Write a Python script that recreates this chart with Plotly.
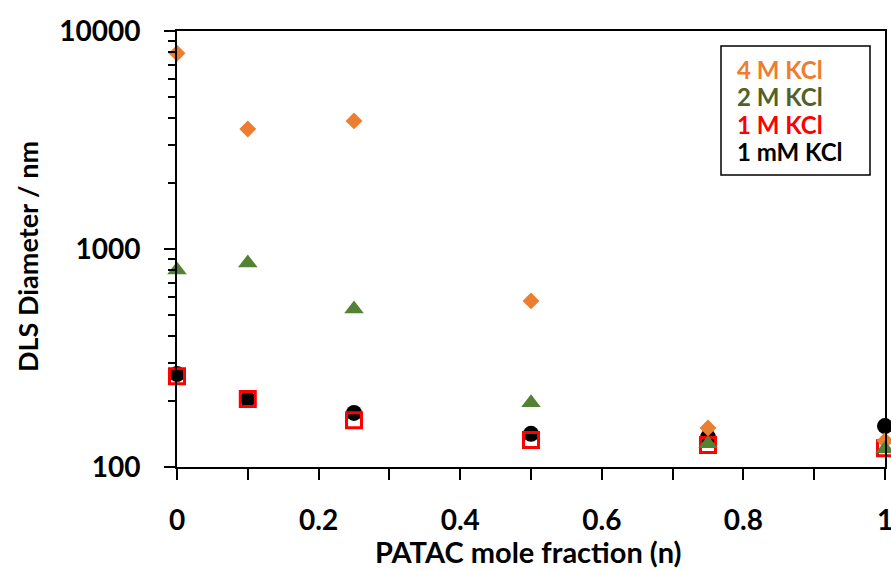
import plotly.graph_objects as go

x_vals = [0, 0.1, 0.25, 0.5, 0.75, 1.0]
kcl_4M = [7900, 3550, 3870, 578, 151, 132]
kcl_2M = [801, 862, 531, 197, 128, 121]
kcl_1M = [261, 205, 164, 133, 126, 122]
kcl_1mM = [267, 205, 177, 142, 137, 154]

x_tickvals = [0, 0.2, 0.4, 0.6, 0.8, 1.0]
x_ticktext = ["0", "0.2", "0.4", "0.6", "0.8", "1"]
y_tickvals = [100, 1000, 10000]
y_ticktext = ["100", "1000", "10000"]

legend_labels = ["4 M KCl", "2 M KCl", "1 M KCl", "1 mM KCl"]
legend_colors = ["#ED7D31", "#4F6228", "#FF0000", "#000000"]

FONT = "Lato"

fig = go.Figure()
fig.add_trace(go.Scatter(x=x_vals, y=kcl_1mM, mode="markers", cliponaxis=False,
                         marker=dict(symbol="circle", size=16, color="#000000"), name="1 mM KCl"))
fig.add_trace(go.Scatter(x=x_vals, y=kcl_1M, mode="markers", cliponaxis=False,
                         marker=dict(symbol="square-open", size=15, color="#FF0000",
                                     line=dict(width=3, color="#FF0000")), name="1 M KCl"))
fig.add_trace(go.Scatter(x=x_vals, y=kcl_4M, mode="markers", cliponaxis=False,
                         marker=dict(symbol="diamond", size=13, color="#ED7D31"), name="4 M KCl"))
fig.add_trace(go.Scatter(x=x_vals, y=kcl_2M, mode="markers", cliponaxis=False,
                         marker=dict(symbol="triangle-up", size=17, color="#548235"), name="2 M KCl"))

L, R, T, B = 177, 885, 31, 467
W, H = R - L, B - T
def px(xp):
    return (xp - L) / W
def py(yp):
    return (B - yp) / H

fig.add_shape(type="rect", xref="paper", yref="paper",
              x0=px(721), x1=px(870), y0=py(175), y1=py(46),
              line=dict(color="#000000", width=1.5), fillcolor="white", layer="above")
legend_y = [69.5, 97, 124.5, 152]
for t, c, yy in zip(legend_labels, legend_colors, legend_y):
    fig.add_annotation(xref="paper", yref="paper", x=px(735), y=py(yy),
                       xanchor="left", yanchor="middle", align="left", showarrow=False,
                       text=t, font=dict(family=FONT, size=24, weight="bold", color=c))

fig.add_annotation(xref="paper", yref="paper", x=px(528), y=py(551),
                   xanchor="center", yanchor="middle", showarrow=False,
                   text="PATAC mole fraction (n)",
                   font=dict(family=FONT, size=29, weight="bold", color="#000000"))
fig.add_annotation(xref="paper", yref="paper", x=px(27), y=py(257),
                   xanchor="center", yanchor="middle", showarrow=False, textangle=-90,
                   text="DLS Diameter / nm",
                   font=dict(family=FONT, size=27, weight="bold", color="#000000"))

fig.update_layout(
    width=891, height=570,
    margin=dict(l=L, r=891 - R, t=T, b=570 - B),
    plot_bgcolor="white", paper_bgcolor="white",
    showlegend=False,
    font=dict(family=FONT, size=28, weight="bold", color="#000000"),
)
fig.update_xaxes(
    range=[0, 1], tickvals=x_tickvals, ticktext=x_ticktext, automargin=False,
    ticklabeloverflow="allow",
    showline=True, linecolor="#000000", linewidth=2, mirror=True,
    ticks="outside", ticklen=11, tickwidth=2, tickcolor="#000000",
    minor=dict(dtick=0.1, tick0=0, ticks="outside", ticklen=11, tickwidth=2, tickcolor="#000000", showgrid=False),
    showgrid=False, zeroline=False, ticklabelstandoff=16,
    tickfont=dict(family=FONT, size=28, weight="bold"),
)
fig.update_yaxes(
    type="log", range=[2, 4], tickvals=y_tickvals, ticktext=y_ticktext, automargin=False,
    showline=True, linecolor="#000000", linewidth=2, mirror=True,
    ticks="outside", ticklen=11, tickwidth=2, tickcolor="#000000",
    minor=dict(dtick="D1", ticks="outside", ticklen=7, tickwidth=2, tickcolor="#000000", showgrid=False),
    showgrid=False, zeroline=False, ticklabelstandoff=18,
    tickfont=dict(family=FONT, size=28, weight="bold"),
)

fig.write_html("out.html")
